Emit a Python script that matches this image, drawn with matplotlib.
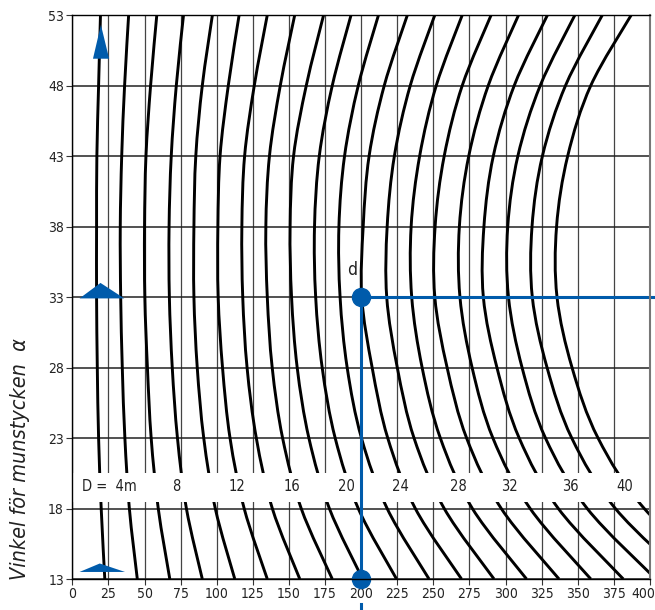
import numpy as np
import matplotlib.pyplot as plt
import matplotlib.transforms as mtransforms
from matplotlib import font_manager
from matplotlib.path import Path
from matplotlib.patches import PathPatch, Polygon, Rectangle

# fonts: narrow sans if available
fonts = font_manager.fontManager.ttflist
names = {f.name for f in fonts}
stretch = 'normal'
if 'Liberation Sans Narrow' in names:
    family = 'Liberation Sans Narrow'
elif any(f.name == 'DejaVu Sans' and f.stretch == 'condensed' for f in fonts):
    family = 'DejaVu Sans'
    stretch = 'condensed'
else:
    family = 'DejaVu Sans'
plt.rcParams['font.family'] = [family, 'DejaVu Sans']
plt.rcParams['font.stretch'] = stretch
narrow_ok = family != 'DejaVu Sans' or stretch == 'condensed'

# data
D_values = [2, 4, 6, 8, 10, 12, 14, 16, 18, 20, 22, 24, 26, 28, 30, 32, 34, 36, 38, 40]
y_levels = [13, 18, 23, 28, 33, 38, 43, 48, 53]

x_at_13 = [22.5, 45, 67.5, 90, 112.5, 135, 157.5, 180, 201, 224.5, 247, 269.5, 292, 314.5, 337, 359, 381.5, 404, 426, 449]
x_at_18 = [20, 39.5, 59.5, 79, 99, 119, 138.5, 158.5, 178, 198, 218, 237.5, 257.5, 277, 297, 317, 336.5, 356.5, 376, 396]
x_at_23 = [18.2, 36.4, 54.6, 72.8, 91, 109.2, 127.4, 145.6, 163.8, 182, 200.2, 218.4, 236.6, 254.8, 273, 291.2, 309.4, 327.6, 345.8, 364]
x_at_28 = [17.3, 34.6, 52, 69.2, 86.5, 104, 121, 138.4, 155.7, 173, 190.3, 207.6, 225, 242.2, 259.5, 276.8, 294, 311.4, 328.7, 346]
x_at_33 = [16.8, 33.5, 50.2, 67.2, 84.2, 101, 118, 135, 151.8, 168.5, 185.4, 200.4, 217.7, 235, 251, 268.4, 284.6, 302, 318.5, 335.6]
x_at_38 = [16.8, 33.2, 50, 67, 84.2, 100.8, 117.4, 134, 150.8, 167.7, 184.6, 201.4, 218, 234.6, 251.2, 268, 285, 301.5, 318.3, 335.3]
x_at_43 = [17, 34.2, 51, 68.5, 85.5, 102.3, 119.3, 136.5, 153.2, 171, 188.5, 205.5, 223, 240.5, 257.5, 274.5, 291.5, 308.5, 325.5, 343]
x_at_48 = [18.2, 36.2, 54.2, 72, 90, 108, 126, 144, 162, 180, 198, 216, 234, 252, 270, 288, 306, 324, 341.5, 359]
x_at_53 = [19.5, 39, 58.5, 77, 97, 115.5, 135, 154, 174, 193, 212, 232, 251, 270, 290, 309, 329, 348, 367, 387]

band_labels = ['D =  4m', '8', '12', '16', '20', '24', '28', '32', '36', '40']
band_label_x = [44.5, 72, 114, 152, 190, 227, 267, 303, 345, 382.5]

x_ticks = list(range(0, 401, 25))
y_ticks = list(range(13, 54, 5))

# example reading
read_x = 200
read_y_top = 33
read_y_bottom = 13

blue = '#005bab'
txt = '#222222'
tick_size = 10 if narrow_ok else 8.6
band_size = 10.5 if narrow_ok else 9.5

fig = plt.figure(figsize=(6.55, 6.10), dpi=100)
ax = fig.add_axes([0.1104, 0.0508, 0.882, 0.9246])
ax.set_xlim(0, 400)
ax.set_ylim(13, 53)
ax.set_xticks(x_ticks)
ax.set_yticks(y_ticks)
ax.tick_params(direction='out', length=4, width=0.8, color='#333333',
               labelsize=tick_size, pad=2, labelcolor=txt)
ax.set_axisbelow(True)
ax.grid(True, axis='x', color='#444444', lw=0.9)
ax.grid(True, axis='y', color='#222222', lw=1.1)
for name, sp in ax.spines.items():
    sp.set_zorder(6)
    sp.set_linewidth(1.0)
ax.spines['right'].set_color('#777777')
ax.spines['right'].set_linewidth(1.5)

# keep the last x tick label inside the figure
last = ax.get_xticklabels()[-1]
last.set_transform(last.get_transform() +
                   mtransforms.ScaledTranslation(-7 / 100, 0, fig.dpi_scale_trans))


def smooth_path(xs, ys):
    # catmull-rom through the read points, drawn as cubic bezier segments
    pts = np.column_stack([xs, ys])
    ext = np.vstack([pts[0], pts, pts[-1]])
    verts = [tuple(pts[0])]
    codes = [Path.MOVETO]
    for i in range(1, len(ext) - 2):
        p0, p1, p2, p3 = ext[i - 1], ext[i], ext[i + 1], ext[i + 2]
        c1 = p1 + (p2 - p0) / 6.0
        c2 = p2 - (p3 - p1) / 6.0
        verts += [tuple(c1), tuple(c2), tuple(p2)]
        codes += [Path.CURVE4] * 3
    return Path(verts, codes)


grid_x = np.array([x_at_13, x_at_18, x_at_23, x_at_28, x_at_33,
                   x_at_38, x_at_43, x_at_48, x_at_53])
for j, D in enumerate(D_values):
    p = smooth_path(grid_x[:, j], y_levels)
    ax.add_patch(PathPatch(p, fill=False, edgecolor='black', lw=2.1, zorder=2))

# white band with D labels
ax.add_patch(Rectangle((0, 18.48), 400, 2.04, facecolor='white', edgecolor='none', zorder=3))
for lab, xp in zip(band_labels, band_label_x):
    ha = 'right' if lab.startswith('D') else 'center'
    ax.text(xp, 19.55, lab, ha=ha, va='center', fontsize=band_size, color=txt, zorder=5)

# blue reading lines and dots
ax.plot([read_x, read_x], [read_y_bottom, read_y_top], color=blue, lw=2.2, zorder=4)
ax.plot([read_x, 405], [read_y_top, read_y_top], color=blue, lw=2.2, zorder=4, clip_on=False)
ax.plot([read_x, read_x], [-0.045, -0.07], color=blue, lw=2.2,
        transform=ax.get_xaxis_transform(), clip_on=False)
ax.plot([read_x, read_x], [read_y_top, read_y_bottom], 'o', ms=13, color=blue,
        zorder=5, clip_on=False)
ax.text(193.7, 34.9, 'd', fontsize=12.5, ha='center', va='center', color=txt, zorder=5)

# nozzle angle icons
for tri in ([(14.3, 49.9), (25.5, 49.9), (19.8, 52.3)],
            [(5, 32.9), (36, 32.9), (19.5, 34.0)],
            [(5, 13.5), (36.5, 13.5), (19, 14.1)]):
    ax.add_patch(Polygon(tri, closed=True, facecolor=blue, edgecolor='none',
                         zorder=5, clip_on=False))

fig.text(0.031, 0.247, 'Vinkel för munstycken  α', rotation=90, style='italic',
         fontsize=15.5 if narrow_ok else 14.5, ha='center', va='center', color=txt)

fig.savefig('out.png', dpi=100)
